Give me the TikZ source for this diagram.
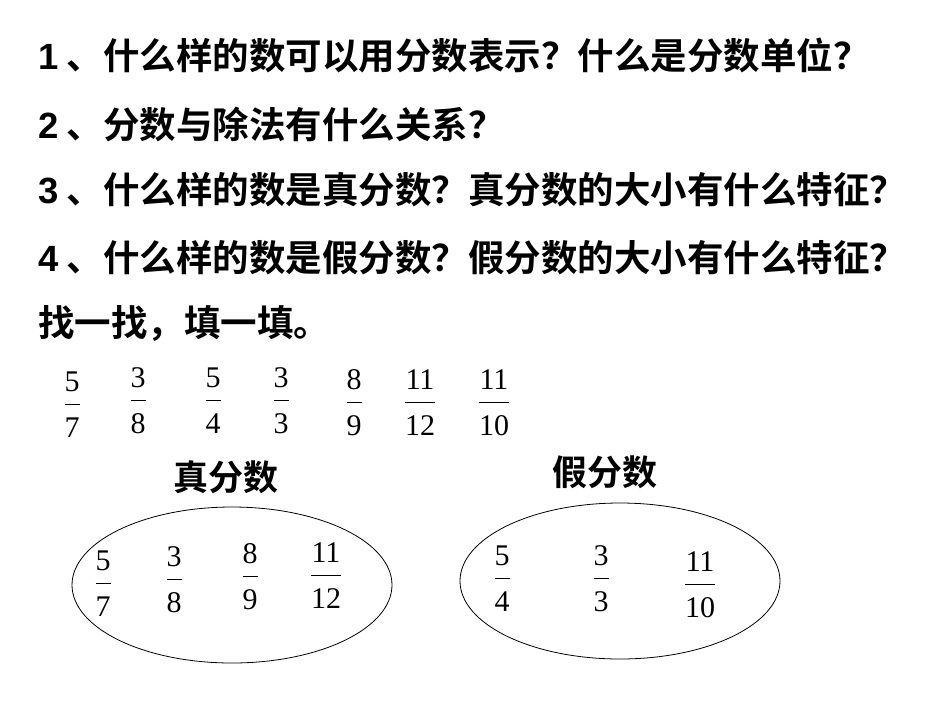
\documentclass[tikz,border=0pt]{standalone}
\usetikzlibrary{shapes.geometric}
\usepackage{fontspec}
\setmainfont{Liberation Serif}
\newfontfamily\cjk{Noto Sans CJK SC}[BoldFont={* Bold}]
\newfontfamily\arialb{Liberation Sans}[]
\newcommand\fr[2]{\begin{tabular}{@{}c@{}}#1\\[3pt]\hline\rule{0pt}{33pt}#2\end{tabular}}
\tikzset{q/.style={anchor=west,font=\fontsize{36.5}{40}\selectfont\cjk\bfseries,inner sep=0pt},
 fr/.style={font=\fontsize{30}{33}\selectfont,inner sep=0pt},
 lab/.style={font=\fontsize{35}{38}\selectfont\cjk\bfseries,inner sep=0pt}}
\begin{document}
\begin{tikzpicture}[x=1pt,y=-1pt]
\useasboundingbox (0,0) rectangle (950,713);
\node[q] (l1) at (38,55) {{\arialb\bfseries 1} 、什么样的数可以用分数表示？什么是分数单位？};
\node[q] (l2) at (38,124) {{\arialb\bfseries 2} 、分数与除法有什么关系？};
\node[q] (l3) at (38,190) {{\arialb\bfseries 3} 、什么样的数是真分数？真分数的大小有什么特征？};
\node[q] (l4) at (38,258) {{\arialb\bfseries 4} 、什么样的数是假分数？假分数的大小有什么特征？};
\node[q] (l5) at (38,323) {找一找，填一填。};
\node[fr] (a1) at (72,408) {\fr{5}{7}};
\node[fr] (a2) at (138,404) {\fr{3}{8}};
\node[fr] (a3) at (213,404) {\fr{5}{4}};
\node[fr] (a4) at (281,404) {\fr{3}{3}};
\node[fr] (a5) at (354,406) {\fr{8}{9}};
\node[fr] (a6) at (420,406) {\fr{11}{12}};
\node[fr] (a7) at (494,406) {\fr{11}{10}};
\node[lab] (t1) at (226,477) {真分数};
\node[lab] (t2) at (605,472) {假分数};
\node[draw,ellipse,minimum width=320,minimum height=156,line width=0.8pt] (e1) at (232,585) {};
\node[draw,ellipse,minimum width=320,minimum height=156,line width=0.8pt] (e2) at (620,581) {};
\node[fr] (b1) at (103,587) {\fr{5}{7}};
\node[fr] (b2) at (174,583) {\fr{3}{8}};
\node[fr] (b3) at (250,580) {\fr{8}{9}};
\node[fr] (b4) at (326,579) {\fr{11}{12}};
\node[fr] (c1) at (502,582) {\fr{5}{4}};
\node[fr] (c2) at (601,582) {\fr{3}{3}};
\node[fr] (c3) at (700,588) {\fr{11}{10}};
\end{tikzpicture}
\end{document}
